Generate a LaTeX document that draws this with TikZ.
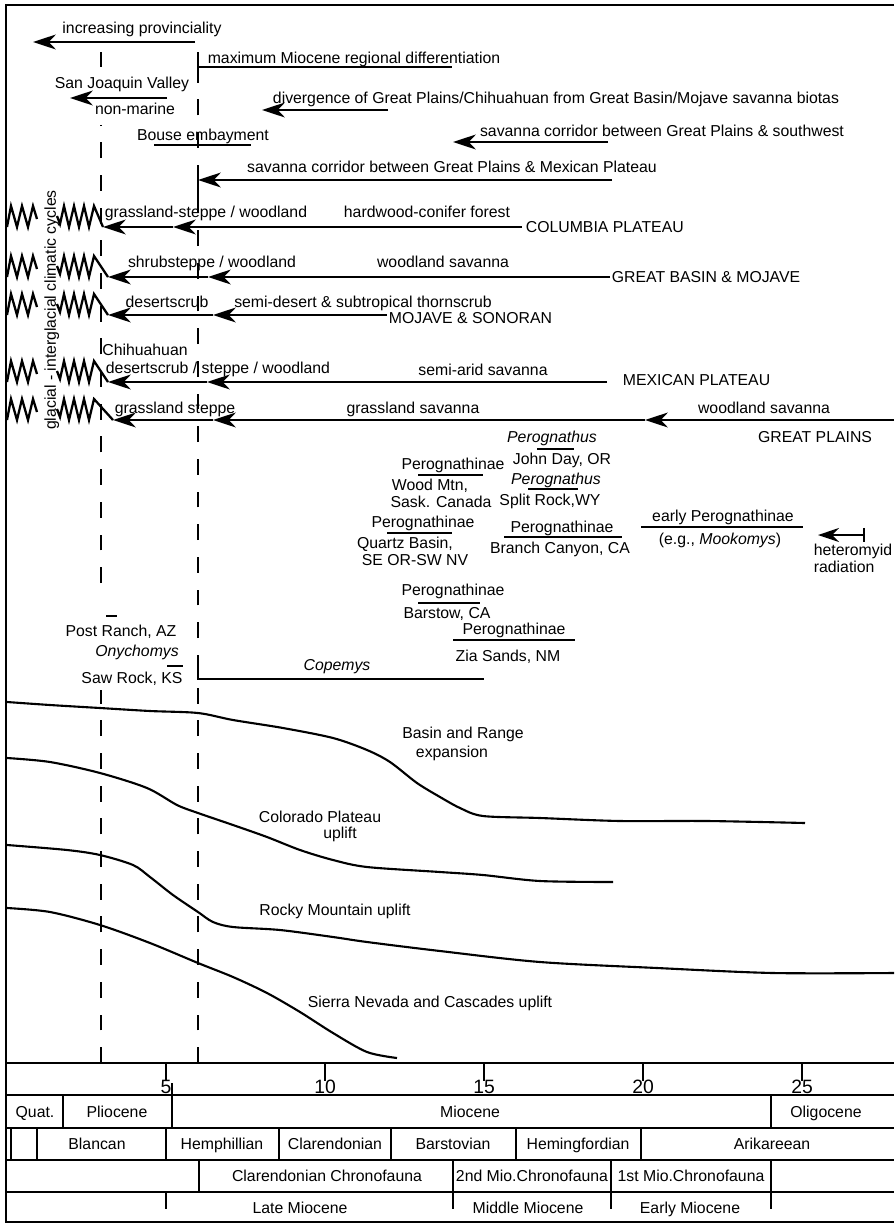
\documentclass[tikz,border=0pt]{standalone}
\usepackage{fontspec}
\setmainfont{Liberation Sans}
\usetikzlibrary{arrows.meta}

\begin{document}
\begin{tikzpicture}[x=0.02cm,y=-0.02cm,line width=1pt,
    every node/.style={font=\fontsize{9}{10}\selectfont,inner sep=0pt,text height=1.5ex,text depth=.25ex},
    arr/.style={-{Stealth[length=13pt,width=8.5pt,inset=4pt]}},
    guide/.style={dash pattern=on 9pt off 9.6pt},
    zig/.style={line width=1.3pt},
    uplift/.style={line width=1.2pt,line join=round}]
    % frame, time scale and stratigraphic columns
    \useasboundingbox (0,0) rectangle (894,1224);
    \draw (894,5) -- (6,5) -- (6,1222) -- (894,1222);
    \foreach \y in {1063,1095,1128,1160,1192} {
        \draw (6,\y) -- (894,\y);
    }
    \foreach \m in {5,10,...,25} {
        \draw (7+31.8*\m,1063) -- (7+31.8*\m,1081);
        \node[font=\fontsize{11}{12}\selectfont] (t\m) at (7+31.8*\m,1088) {\m};
    }
    \foreach \x in {63,771} \draw (\x,1095) -- (\x,1128);
    \draw (172,1083) -- (172,1128);
    \foreach \x in {11,37,166,279,391,516,641} \draw (\x,1128) -- (\x,1160);
    \foreach \x in {199,453,611,771} \draw (\x,1160) -- (\x,1192);
    \foreach \x in {166,453,611,771} \draw (\x,1192) -- (\x,1209);

    \node (quat) at (35,1112) {Quat.};
    \node (plio) at (117,1112) {Pliocene};
    \node (mioc) at (470,1112) {Miocene};
    \node (olig) at (826,1112) {Oligocene};
    \node (blan) at (97,1144) {Blancan};
    \node (hemp) at (222,1144) {Hemphillian};
    \node (clar) at (335,1144) {Clarendonian};
    \node (bars) at (453,1144) {Barstovian};
    \node (hemi) at (578,1144) {Hemingfordian};
    \node (arik) at (772,1144) {Arikareean};
    \node (clch) at (327,1176) {Clarendonian Chronofauna};
    \node (mio2) at (532,1176) {2nd Mio.Chronofauna};
    \node (mio1) at (691,1176) {1st Mio.Chronofauna};
    \node (late) at (300,1208) {Late Miocene};
    \node (midm) at (528,1208) {Middle Miocene};
    \node (earl) at (690,1208) {Early Miocene};

    \draw[guide] (101,1063) -- (101,690);
    \draw[guide] (101,583) -- (101,125);
    \draw (101,52) -- (101,67);
    \draw[guide] (198,1063) -- (198,52);

    \node (prov) at (142,28) {increasing provinciality};
    \draw[arr] (195,42) -- (33,42);
    \node (maxd) at (354,58) {maximum Miocene regional differentiation};
    \draw (198,52) -- (198,67) -- (452,67);
    \node (sjv) at (122,83) {San Joaquin Valley};
    \node (nonm) at (135,109) {non-marine};
    \draw[arr] (167,98) -- (70,98);
    \node (divg) at (556,98) {divergence of Great Plains/Chihuahuan from Great Basin/Mojave savanna biotas};
    \draw[arr] (388,110) -- (262,110);
    \node (bouse) at (203,135) {Bouse embayment};
    \draw (154,145) -- (251,145);
    \node (corsw) at (662,131) {savanna corridor between Great Plains \& southwest};
    \draw[arr] (608,142) -- (453,142);
    \node (cormx) at (452,167) {savanna corridor between Great Plains \& Mexican Plateau};
    \draw[arr] (612,180) -- (198,180);
    \draw (198,180) -- (198,200);

    \node[rotate=90] (glac) at (50,310) {glacial - interglacial climatic cycles};
    \foreach \y/\t in {227/103,277/108,315/108,382/108,420/113} {
        \draw[zig] (7,\y) -- (11,\y-21) -- (17,\y) -- (22,\y-21) -- (28,\y) -- (33,\y-21) -- (37,\y-8);
        \draw[zig] (57,\y-11) -- (60,\y-3) -- (64,\y-21) -- (69,\y) -- (74,\y-21) -- (79,\y) -- (84,\y-21) -- (89,\y) -- (94,\y-21) -- (\t,\y);
    }

    \node[anchor=west] (colp) at (525,227) {COLUMBIA PLATEAU};
    \draw[arr] (522,227) -- (173,227);
    \draw[arr] (173,227) -- (103,227);
    \node (gsw) at (206,212) {grassland-steppe / woodland};
    \node (hcf) at (427,212) {hardwood-conifer forest};

    \node[anchor=west] (gbm) at (611,277) {GREAT BASIN \& MOJAVE};
    \draw[arr] (610,277) -- (208,277);
    \draw[arr] (208,277) -- (108,277);
    \node (ssw) at (212,262) {shrubsteppe / woodland};
    \node (wsav1) at (443,262) {woodland savanna};

    \node[anchor=west] (mojs) at (388,318) {MOJAVE \& SONORAN};
    \draw[arr] (387,315) -- (213,315);
    \draw[arr] (213,315) -- (108,315);
    \node (dscr) at (167,302) {desertscrub};
    \node (sdst) at (363,302) {semi-desert \& subtropical thornscrub};

    \node[anchor=west] (mexp) at (622,380) {MEXICAN PLATEAU};
    \draw[arr] (607,382) -- (207,382);
    \draw[arr] (207,382) -- (108,382);
    \node (chih) at (145,350) {Chihuahuan};
    \node (dsw) at (218,368) {desertscrub / steppe / woodland};
    \node (sasav) at (483,370) {semi-arid savanna};

    \node (gp) at (815,437) {GREAT PLAINS};
    \draw[arr] (894,420) -- (645,420);
    \draw[arr] (645,420) -- (213,420);
    \draw[arr] (213,420) -- (113,420);
    \node (gst) at (175,408) {grassland steppe};
    \node (gsav) at (413,408) {grassland savanna};
    \node (wsav2) at (764,408) {woodland savanna};

    % fossil records
    \node (pgs1) at (552,437) {\textit{Perognathus}};
    \draw (537,449) -- (574,449);
    \node (jday) at (562,459) {John Day, OR};
    \node (pgn1) at (453,464) {Perognathinae};
    \draw (418,475) -- (483,475);
    \node (wood) at (430,485) {Wood Mtn,};
    \node (sask) at (441,502) {Sask. Canada};
    \node (pgs2) at (556,479) {\textit{Perognathus}};
    \draw (528,489) -- (578,489);
    \node (splr) at (550,500) {Split Rock,WY};
    \node (pgn2) at (423,522) {Perognathinae};
    \draw (387,533) -- (452,533);
    \node (qbas) at (405,543) {Quartz Basin,};
    \node (seor) at (415,560) {SE OR-SW NV};
    \node (pgn3) at (562,527) {Perognathinae};
    \draw (504,537) -- (622,537);
    \node (brch) at (560,548) {Branch Canyon, CA};
    \node (early) at (723,516) {early Perognathinae};
    \draw (641,527) -- (803,527);
    \node (mook) at (720,539) {(e.g., \textit{Mookomys})};
    \draw[{Bar[width=8pt]}-{Stealth[length=12pt,width=8pt,inset=4pt]}] (865,535) -- (818,535);
    \node[anchor=west] (hetm) at (813,550) {heteromyid};
    \node[anchor=west] (radn) at (813,567) {radiation};
    \node (pgn4) at (453,590) {Perognathinae};
    \draw (418,603) -- (480,603);
    \node (bars2) at (447,613) {Barstow, CA};
    \node (pgn5) at (514,629) {Perognathinae};
    \draw (453,640) -- (575,640);
    \node (zias) at (508,656) {Zia Sands, NM};

    \draw (106,616) -- (117,616);
    \node (post) at (121,631) {Post Ranch, AZ};
    \node (onyc) at (137,651) {\textit{Onychomys}};
    \draw (167,666) -- (183,666);
    \node (sawr) at (132,678) {Saw Rock, KS};
    \node (cope) at (337,665) {\textit{Copemys}};
    \draw (198,665) -- (198,679) -- (484,679);

    % tectonic histories
    \draw[uplift] plot[smooth] coordinates {(7,702) (50,705) (100,708) (150,711) (198,713) (233,720) (283,728) (333,738) (367,750) (390,762) (417,783) (440,797) (460,808) (483,816) (540,818) (620,821) (707,821) (805,823)};
    \node (bnr) at (463,733) {Basin and Range};
    \node (bnr2) at (452,752) {expansion};
    \draw[uplift] plot[smooth] coordinates {(7,758) (50,762) (100,773) (147,788) (177,805) (198,813) (233,825) (267,837) (300,850) (333,860) (367,867) (440,872) (483,875) (540,881) (613,882)};
    \node (colo) at (320,817) {Colorado Plateau};
    \node (colo2) at (340,833) {uplift};
    \draw[uplift] plot[smooth] coordinates {(7,845) (67,850) (100,855) (133,865) (150,877) (173,895) (198,912) (213,922) (233,927) (280,930) (333,937) (367,942) (440,951) (540,962) (657,968) (773,973) (894,973)};
    \node (rock) at (335,910) {Rocky Mountain uplift};
    \draw[uplift] plot[smooth] coordinates {(7,908) (50,912) (100,925) (150,943) (198,963) (233,977) (267,993) (300,1012) (333,1033) (367,1052) (397,1058)};
    \node (sier) at (430,1002) {Sierra Nevada and Cascades uplift};
\end{tikzpicture}
\end{document}
